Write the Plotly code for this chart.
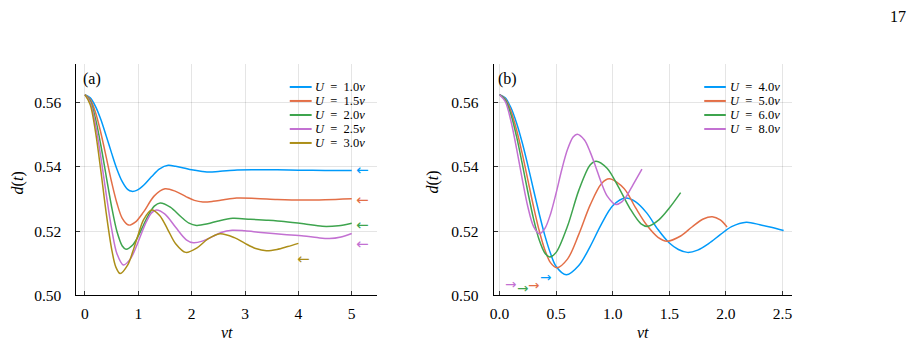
import plotly.graph_objects as go

# ---------------- data ----------------
COLORS = ["#009AFA", "#E36F47", "#3EA44E", "#C371D2", "#AC8E18"]

# panel (a)
labels_a = ["1.0", "1.5", "2.0", "2.5", "3.0"]
t_a1 = [0.0, 0.1, 0.2, 0.3, 0.4, 0.5, 0.6, 0.7, 0.8, 0.88, 0.97, 1.1, 1.25, 1.4, 1.56, 1.7, 1.85, 2.0, 2.2, 2.34, 2.5, 2.8, 3.2, 3.6, 4.0, 4.5, 5.0]
d_a1 = [0.5625, 0.5615, 0.5588, 0.5547, 0.5496, 0.5443, 0.5393, 0.5354, 0.5330, 0.5324, 0.5327, 0.5343, 0.5370, 0.5394, 0.5405, 0.5402, 0.5397, 0.5391, 0.5386, 0.5384, 0.5386, 0.5390, 0.5391, 0.5391, 0.5390, 0.5389, 0.5389]
t_a2 = [0.0, 0.1, 0.2, 0.3, 0.4, 0.5, 0.6, 0.7, 0.82, 0.95, 1.1, 1.3, 1.5, 1.7, 1.9, 2.05, 2.21, 2.4, 2.6, 2.84, 3.2, 3.6, 4.08, 4.5, 5.0]
d_a2 = [0.5625, 0.5610, 0.5569, 0.5505, 0.5430, 0.5353, 0.5287, 0.5240, 0.5219, 0.5229, 0.5260, 0.5310, 0.5332, 0.5324, 0.5307, 0.5296, 0.5291, 0.5293, 0.5298, 0.5303, 0.5302, 0.5299, 0.5297, 0.5298, 0.5301]
t_a3 = [0.0, 0.1, 0.2, 0.3, 0.4, 0.5, 0.6, 0.7, 0.77, 0.9, 1.0, 1.1, 1.2, 1.3, 1.41, 1.6, 1.8, 1.95, 2.09, 2.3, 2.5, 2.77, 3.1, 3.4, 3.73, 4.1, 4.45, 4.75, 5.0]
d_a3 = [0.5625, 0.5605, 0.5549, 0.5466, 0.5370, 0.5276, 0.5199, 0.5154, 0.5144, 0.5158, 0.5185, 0.5220, 0.5253, 0.5278, 0.5288, 0.5275, 0.5245, 0.5225, 0.5218, 0.5223, 0.5232, 0.5240, 0.5237, 0.5234, 0.5230, 0.5223, 0.5215, 0.5217, 0.5225]
t_a4 = [0.0, 0.1, 0.2, 0.3, 0.4, 0.5, 0.6, 0.72, 0.85, 0.95, 1.05, 1.15, 1.25, 1.34, 1.5, 1.7, 1.9, 2.03, 2.2, 2.4, 2.55, 2.76, 3.0, 3.3, 3.73, 4.1, 4.35, 4.58, 4.8, 5.0]
d_a4 = [0.5625, 0.5600, 0.5530, 0.5428, 0.5314, 0.5208, 0.5130, 0.5095, 0.5113, 0.5147, 0.5189, 0.5229, 0.5257, 0.5266, 0.5253, 0.5212, 0.5173, 0.5164, 0.5169, 0.5184, 0.5196, 0.5203, 0.5201, 0.5196, 0.5190, 0.5185, 0.5180, 0.5177, 0.5182, 0.5193]
t_a5 = [0.0, 0.1, 0.2, 0.3, 0.4, 0.5, 0.58, 0.66, 0.8, 0.9, 1.0, 1.1, 1.25, 1.4, 1.55, 1.7, 1.89, 2.1, 2.3, 2.53, 2.8, 3.0, 3.2, 3.4, 3.6, 3.8, 4.0]
d_a5 = [0.5625, 0.5594, 0.5508, 0.5386, 0.5255, 0.5145, 0.5088, 0.5068, 0.5094, 0.5138, 0.5190, 0.5236, 0.5266, 0.5249, 0.5206, 0.5161, 0.5134, 0.5148, 0.5175, 0.5192, 0.5180, 0.5162, 0.5146, 0.5139, 0.5143, 0.5152, 0.5162]
arrow_a_t = [5.21, 5.21, 5.21, 5.21, 4.10]
arrow_a_d = [0.5389, 0.5298, 0.5220, 0.5159, 0.5114]

# panel (b)
labels_b = ["4.0", "5.0", "6.0", "8.0"]
t_b1 = [0.0, 0.05, 0.1, 0.15, 0.2, 0.25, 0.3, 0.35, 0.4, 0.45, 0.5, 0.59, 0.7, 0.8, 0.9, 1.0, 1.11, 1.2, 1.3, 1.4, 1.5, 1.58, 1.66, 1.75, 1.85, 1.95, 2.05, 2.18, 2.3, 2.4, 2.51]
d_b1 = [0.5625, 0.5615, 0.5585, 0.5537, 0.5476, 0.5405, 0.5329, 0.5255, 0.5187, 0.5131, 0.5090, 0.5064, 0.5093, 0.5152, 0.5222, 0.5279, 0.5303, 0.5292, 0.5257, 0.5205, 0.5163, 0.5143, 0.5134, 0.5141, 0.5162, 0.5189, 0.5214, 0.5228, 0.5220, 0.5212, 0.5202]
t_b2 = [0.0, 0.05, 0.1, 0.15, 0.2, 0.25, 0.3, 0.35, 0.4, 0.45, 0.505, 0.6, 0.7, 0.8, 0.9, 0.97, 1.1, 1.2, 1.3, 1.4, 1.48, 1.6, 1.7, 1.8, 1.88, 1.95, 2.01]
d_b2 = [0.5625, 0.5612, 0.5575, 0.5516, 0.5442, 0.5360, 0.5277, 0.5202, 0.5142, 0.5102, 0.5086, 0.5113, 0.5190, 0.5281, 0.5348, 0.5363, 0.5333, 0.5274, 0.5219, 0.5181, 0.5169, 0.5185, 0.5213, 0.5238, 0.5245, 0.5235, 0.5213]
t_b3 = [0.0, 0.05, 0.1, 0.15, 0.2, 0.25, 0.3, 0.35, 0.4, 0.443, 0.5, 0.6, 0.7, 0.8, 0.853, 0.95, 1.05, 1.15, 1.25, 1.31, 1.41, 1.5, 1.6]
d_b3 = [0.5625, 0.5609, 0.5564, 0.5495, 0.5411, 0.5322, 0.5239, 0.5173, 0.5132, 0.5120, 0.5134, 0.5215, 0.5327, 0.5406, 0.5418, 0.5396, 0.5338, 0.5272, 0.5223, 0.5215, 0.5236, 0.5272, 0.5320]
t_b4 = [0.0, 0.05, 0.1, 0.15, 0.2, 0.25, 0.3, 0.352, 0.4, 0.45, 0.5, 0.55, 0.6, 0.65, 0.686, 0.75, 0.8, 0.85, 0.9, 0.95, 1.028, 1.08, 1.12, 1.18, 1.258]
d_b4 = [0.5625, 0.5604, 0.5544, 0.5458, 0.5363, 0.5276, 0.5215, 0.5192, 0.5208, 0.5253, 0.5319, 0.5392, 0.5454, 0.5493, 0.5502, 0.5484, 0.5447, 0.5400, 0.5350, 0.5310, 0.5283, 0.5291, 0.5308, 0.5345, 0.5393]
arrow_b_t = [0.41, 0.30, 0.20, 0.10]
arrow_b_d = [0.5056, 0.5031, 0.5022, 0.5034]

xticks_a = [0, 1, 2, 3, 4, 5]
xticks_b = [0.0, 0.5, 1.0, 1.5, 2.0, 2.5]
yticks = [0.50, 0.52, 0.54, 0.56]

# ---------------- layout helpers ----------------
W, H = 916, 351
def PX(x):
    return x / W
def PY(y):
    return 1 - y / H

SERIF = "Liberation Serif"
BLACK = "#000000"

fig = go.Figure()

series_a = [(t_a1, d_a1), (t_a2, d_a2), (t_a3, d_a3), (t_a4, d_a4), (t_a5, d_a5)]
series_b = [(t_b1, d_b1), (t_b2, d_b2), (t_b3, d_b3), (t_b4, d_b4)]

for (t, d), c, lab in zip(series_a, COLORS, labels_a):
    fig.add_trace(go.Scatter(x=t, y=d, mode="lines", name=f"U = {lab}v",
                             line=dict(color=c, width=1.5, shape="spline", smoothing=0.9),
                             xaxis="x", yaxis="y", showlegend=False))
for (t, d), c, lab in zip(series_b, COLORS, labels_b):
    fig.add_trace(go.Scatter(x=t, y=d, mode="lines", name=f"U = {lab}v",
                             line=dict(color=c, width=1.5, shape="spline", smoothing=0.9),
                             xaxis="x2", yaxis="y2", showlegend=False))

annotations = []
shapes = []

# arrows
for t, d, c in zip(arrow_a_t, arrow_a_d, COLORS):
    annotations.append(dict(x=t, y=d, xref="x", yref="y", text="\u2190", showarrow=False,
                            font=dict(family="DejaVu Sans", size=15, color=c),
                            xanchor="center", yanchor="middle"))
for t, d, c in zip(arrow_b_t, arrow_b_d, COLORS):
    annotations.append(dict(x=t, y=d, xref="x2", yref="y2", text="\u2192", showarrow=False,
                            font=dict(family="DejaVu Sans", size=13.5, color=c),
                            xanchor="center", yanchor="middle"))

# manual legends
def add_legend(labels, x0, x1, xt, rows, box):
    shapes.append(dict(type="rect", xref="paper", yref="paper",
                       x0=PX(box[0]), x1=PX(box[1]), y0=PY(box[3]), y1=PY(box[2]),
                       fillcolor="white", line=dict(width=0), layer="between"))
    for lab, c, yy in zip(labels, COLORS, rows):
        shapes.append(dict(type="line", xref="paper", yref="paper",
                           x0=PX(x0), x1=PX(x1), y0=PY(yy), y1=PY(yy),
                           line=dict(color=c, width=2), layer="above"))
        annotations.append(dict(x=PX(xt), y=PY(yy), xref="paper", yref="paper",
                                text=f"<i>U</i>\u00a0\u00a0=\u00a0\u00a0{lab}<i>v</i>",
                                showarrow=False, xanchor="left", yanchor="middle",
                                font=dict(family=SERIF, size=12.5, color=BLACK)))

rows = [89, 103.3, 117.7, 132, 146.3]
add_legend(labels_a, 287, 309, 310, rows, (283, 368, 81, 154))
add_legend(labels_b, 703.3, 725, 726.7, rows[:4], (699, 785, 81, 140))

# panel tags, axis titles, page number
annotations += [
    dict(x=PX(77), y=PY(80.7), xref="paper", yref="paper", text="(a)", showarrow=False,
         xanchor="left", yanchor="middle", font=dict(family=SERIF, size=16, color=BLACK)),
    dict(x=PX(494), y=PY(80.7), xref="paper", yref="paper", text="(b)", showarrow=False,
         xanchor="left", yanchor="middle", font=dict(family=SERIF, size=16, color=BLACK)),
    dict(x=PX(224), y=PY(340), xref="paper", yref="paper", text="<i>vt</i>", showarrow=False,
         xanchor="center", yanchor="middle", font=dict(family=SERIF, size=16, color=BLACK)),
    dict(x=PX(641.7), y=PY(340), xref="paper", yref="paper", text="<i>vt</i>", showarrow=False,
         xanchor="center", yanchor="middle", font=dict(family=SERIF, size=16, color=BLACK)),
    dict(x=PX(15), y=PY(186.7), xref="paper", yref="paper", text="<i>d</i>(<i>t</i>)",
         showarrow=False, textangle=-90, xanchor="center", yanchor="middle",
         font=dict(family=SERIF, size=16, color=BLACK)),
    dict(x=PX(431), y=PY(186.7), xref="paper", yref="paper", text="<i>d</i>(<i>t</i>)",
         showarrow=False, textangle=-90, xanchor="center", yanchor="middle",
         font=dict(family=SERIF, size=16, color=BLACK)),
    dict(x=PX(898), y=PY(17), xref="paper", yref="paper", text="17", showarrow=False,
         xanchor="center", yanchor="middle", font=dict(family=SERIF, size=16, color=BLACK)),
]

axis_common = dict(showgrid=True, gridcolor="rgba(0,0,0,0.1)", gridwidth=1,
                   showline=True, linecolor=BLACK, linewidth=1, mirror=False,
                   ticks="inside", ticklen=4, tickcolor="#333333", tickwidth=1,
                   zeroline=False, tickfont=dict(family=SERIF, size=15.5, color=BLACK))

ydom = [PY(302.3), PY(66)]

fig.update_layout(
    width=W, height=H,
    margin=dict(l=0, r=0, t=0, b=0),
    paper_bgcolor="white", plot_bgcolor="white",
    showlegend=False,
    font=dict(family=SERIF, color=BLACK),
    xaxis=dict(domain=[PX(72.7), PX(375)], range=[-0.16, 5.48], anchor="y",
               tickvals=xticks_a, ticktext=[str(v) for v in xticks_a],
               ticklabelstandoff=4, **axis_common),
    yaxis=dict(domain=ydom, range=[0.50, 0.5719], anchor="x",
               tickvals=yticks, ticktext=[f"{v:.2f}" for v in yticks],
               ticklabelstandoff=11, **axis_common),
    xaxis2=dict(domain=[PX(491.7), PX(791.7)], range=[-0.053, 2.586], anchor="y2",
                tickvals=xticks_b, ticktext=[f"{v:.1f}" for v in xticks_b],
                ticklabelstandoff=4, **axis_common),
    yaxis2=dict(domain=ydom, range=[0.50, 0.5719], anchor="x2",
                tickvals=yticks, ticktext=[f"{v:.2f}" for v in yticks],
                ticklabelstandoff=11, **axis_common),
    annotations=annotations,
    shapes=shapes,
)

fig.write_html("out.html")
